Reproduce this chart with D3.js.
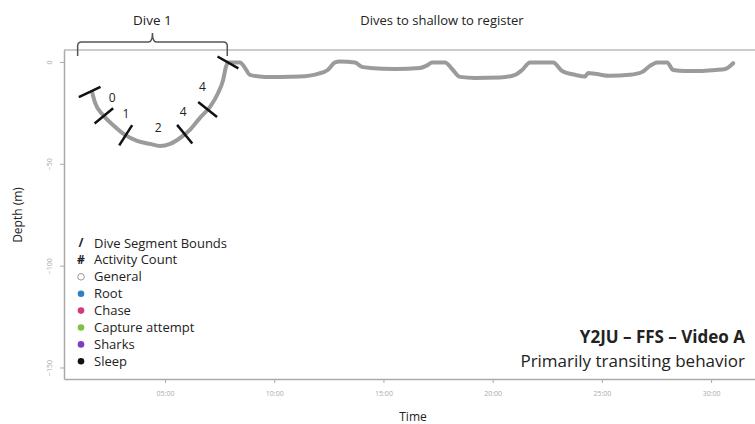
<!DOCTYPE html>
<html>
<head>
<meta charset="UTF-8">
<style>
body { margin: 0; background: #fff; }
text { font-family: "Open Sans", sans-serif; fill: #222; }
.axis path, .axis line { stroke: #aaa; }
.axis text { fill: #aaa; font-size: 7px; }
</style>
</head>
<body>
<svg class="chart" width="755" height="424"></svg>
<script src="https://d3js.org/d3.v7.min.js"></script>
<script>

// dive track: time (minutes) and depth (m)
var trackTime = [1.66, 1.80, 2.16, 2.62, 3.17, 3.72, 4.31, 4.77, 5.23, 5.69, 6.14, 6.60, 7.06, 7.43, 7.66, 7.79, 7.88,
  8.43, 8.66, 8.89, 9.57, 10.27, 11.17, 12.0, 12.45, 12.78, 13.0, 13.38, 13.7, 14.02, 14.38, 15.53, 16.68, 17.04, 17.22,
  17.82, 18.14, 18.51, 19.19, 20.34, 21.03, 21.35, 21.71, 22.77, 23.18, 23.78, 24.23, 24.37, 24.69, 25.38, 26.28,
  26.84, 27.2, 27.53, 27.99, 28.26, 28.81, 29.5, 30.19, 30.65, 31.01];
var trackDepth = [-14.5, -19.9, -25.8, -30.7, -35.6, -38.5, -40.0, -41.0, -40.0, -37.1, -33.1, -27.2, -21.8, -15.0, -8.6, -2.2, 0,
  0, -2.7, -6.1, -7.1, -7.1, -6.9, -5.6, -3.7, 0, 0.5, 0.3, 0, -2.2, -2.7, -3.2, -2.7, -1.2, 0,
  0, -3.2, -7.1, -7.6, -7.4, -6.1, -3.7, 0, 0, -4.2, -6.1, -6.9, -5.2, -5.6, -6.6, -6.1,
  -4.7, -1.7, 0, 0, -3.7, -4.2, -4.2, -3.7, -3.2, -0.4];

// dive segment bounds (minutes) and activity counts per segment
var boundTimes = [1.55, 2.2, 3.2, 5.9, 6.95, 7.88];
var activityCounts = [0, 1, 2, 4, 4];

var xTicks = [5, 10, 15, 20, 25, 30];
var yTicks = [0, -50, -100, -150];

var legendLabels = ["Dive Segment Bounds", "Activity Count", "General", "Root", "Chase", "Capture attempt", "Sharks", "Sleep"];
var legendSymbols = ["/", "#", "open", "dot", "dot", "dot", "dot", "dot"];
var legendColors = [null, null, "#fff", "#2f7fc1", "#d23a7a", "#7cc242", "#7b3fc4", "#111"];

var diveBrace = [1.0, 7.85];

var svg = d3.select(".chart");

var x = d3.scaleLinear().domain([0.375, 32.01]).range([64, 755]);
var y = d3.scaleLinear().domain([6.1, -155.4]).range([50, 379]);

var track = trackTime.map(function(t, i) { return [t, trackDepth[i]]; });
function depthAt(t) {
  var times = trackTime;
  if (t <= times[0]) return trackDepth[0];
  var i = d3.bisectLeft(times, t);
  var a = (t - times[i - 1]) / (times[i] - times[i - 1]);
  return trackDepth[i - 1] + a * (trackDepth[i] - trackDepth[i - 1]);
}

// box: top, left, bottom
svg.append("line").attr("x1", 64).attr("x2", 755).attr("y1", 50).attr("y2", 50)
  .attr("stroke", "#ccc").attr("stroke-width", 2);

var xAxis = svg.append("g").attr("class", "axis").attr("transform", "translate(0,379)")
  .call(d3.axisBottom(x).tickValues(xTicks).tickSize(4).tickSizeOuter(0)
    .tickFormat(function(d) { return (d < 10 ? "0" : "") + d + ":00"; }));
xAxis.select(".domain").attr("stroke-width", 1.5);
xAxis.selectAll("text").attr("dy", "1.4em");

var yAxis = svg.append("g").attr("class", "axis").attr("transform", "translate(64,0)")
  .call(d3.axisLeft(y).tickValues(yTicks).tickSize(4).tickSizeOuter(0));
yAxis.select(".domain").attr("stroke-width", 1.5);
yAxis.selectAll("text").attr("transform", function(d) { return "translate(-14," + y(d) + ") rotate(-90)"; })
  .attr("x", 0).attr("y", 0).attr("dy", "0.3em").attr("text-anchor", "middle");
yAxis.selectAll(".tick").attr("transform", null);
yAxis.selectAll(".tick line").attr("y1", function(d) { return y(d); }).attr("y2", function(d) { return y(d); });

// axis titles
svg.append("text").attr("x", 413).attr("y", 421).attr("text-anchor", "middle")
  .style("font-size", "12px").text("Time");
svg.append("text").attr("transform", "translate(22,215) rotate(-90)").attr("text-anchor", "middle")
  .style("font-size", "12px").text("Depth (m)");

// depth trace
var line = d3.line().x(function(d) { return x(d[0]); }).y(function(d) { return y(d[1]); }).curve(d3.curveMonotoneX);
svg.append("path").datum(track).attr("d", line)
  .attr("fill", "none").attr("stroke", "#9b9b9b").attr("stroke-width", 4)
  .attr("stroke-linejoin", "round").attr("stroke-linecap", "round");

// segment bounds, drawn across the trace
function normalAt(t) {
  var dt = 0.25;
  var ta = Math.max(t - dt, trackTime[0]), tb = Math.max(t + dt, trackTime[0] + 2 * dt);
  var p0 = [x(ta), y(depthAt(ta))], p1 = [x(tb), y(depthAt(tb))];
  var dx = p1[0] - p0[0], dy = p1[1] - p0[1], len = Math.sqrt(dx * dx + dy * dy);
  return [dy / len, -dx / len];
}
boundTimes.forEach(function(t) {
  var cx = x(t), cy = y(depthAt(t)), n = normalAt(t), L = 12;
  svg.append("line")
    .attr("x1", cx - L * n[0]).attr("y1", cy - L * n[1])
    .attr("x2", cx + L * n[0]).attr("y2", cy + L * n[1])
    .attr("stroke", "#111").attr("stroke-width", 2.5);
});

// activity counts
activityCounts.forEach(function(c, i) {
  var t = (boundTimes[i] + boundTimes[i + 1]) / 2;
  var cx = x(t), cy = y(depthAt(t)), n = normalAt(t);
  if (n[1] > 0) n = [-n[0], -n[1]];
  svg.append("text").attr("x", cx + n[0] * 17).attr("y", cy + n[1] * 17)
    .attr("text-anchor", "middle").attr("dy", "0.35em")
    .style("font-size", "12px").text(c);
});

// brace over dive 1
var bx0 = x(diveBrace[0]), bx1 = x(diveBrace[1]), bm = (bx0 + bx1) / 2;
svg.append("path")
  .attr("d", "M" + bx0 + ",56 L" + bx0 + ",46 Q" + bx0 + ",42 " + (bx0 + 4) + ",42 L" + (bm - 4) + ",42 Q" + bm + ",42 " + bm + ",33"
    + " Q" + bm + ",42 " + (bm + 4) + ",42 L" + (bx1 - 4) + ",42 Q" + bx1 + ",42 " + bx1 + ",46 L" + bx1 + ",56")
  .attr("fill", "none").attr("stroke", "#555").attr("stroke-width", 1.5);
svg.append("text").attr("x", bm).attr("y", 25).attr("text-anchor", "middle")
  .style("font-size", "13.5px").text("Dive 1");
svg.append("text").attr("x", 442).attr("y", 25).attr("text-anchor", "middle")
  .style("font-size", "13px").text("Dives to shallow to register");

// legend
var lg = svg.append("g");
legendLabels.forEach(function(lab, i) {
  var ly = 243 + i * 16.9;
  var sym = legendSymbols[i];
  if (sym === "/" || sym === "#") {
    lg.append("text").attr("x", 81).attr("y", ly).attr("dy", "0.35em").attr("text-anchor", "middle")
      .style("font-size", "12px").style("font-weight", "bold").text(sym);
  } else {
    lg.append("circle").attr("cx", 81).attr("cy", ly).attr("r", 3.3)
      .attr("fill", legendColors[i]).attr("stroke", sym === "open" ? "#999" : "none");
  }
  lg.append("text").attr("x", 94).attr("y", ly).attr("dy", "0.35em")
    .style("font-size", "13px").text(lab);
});

// video annotation
svg.append("text").attr("x", 745).attr("y", 343).attr("text-anchor", "end")
  .style("font-size", "17px").style("font-weight", "bold").text("Y2JU \u2013 FFS \u2013 Video A");
svg.append("text").attr("x", 745).attr("y", 367).attr("text-anchor", "end")
  .style("font-size", "17px").text("Primarily transiting behavior");

</script>
</body>
</html>
